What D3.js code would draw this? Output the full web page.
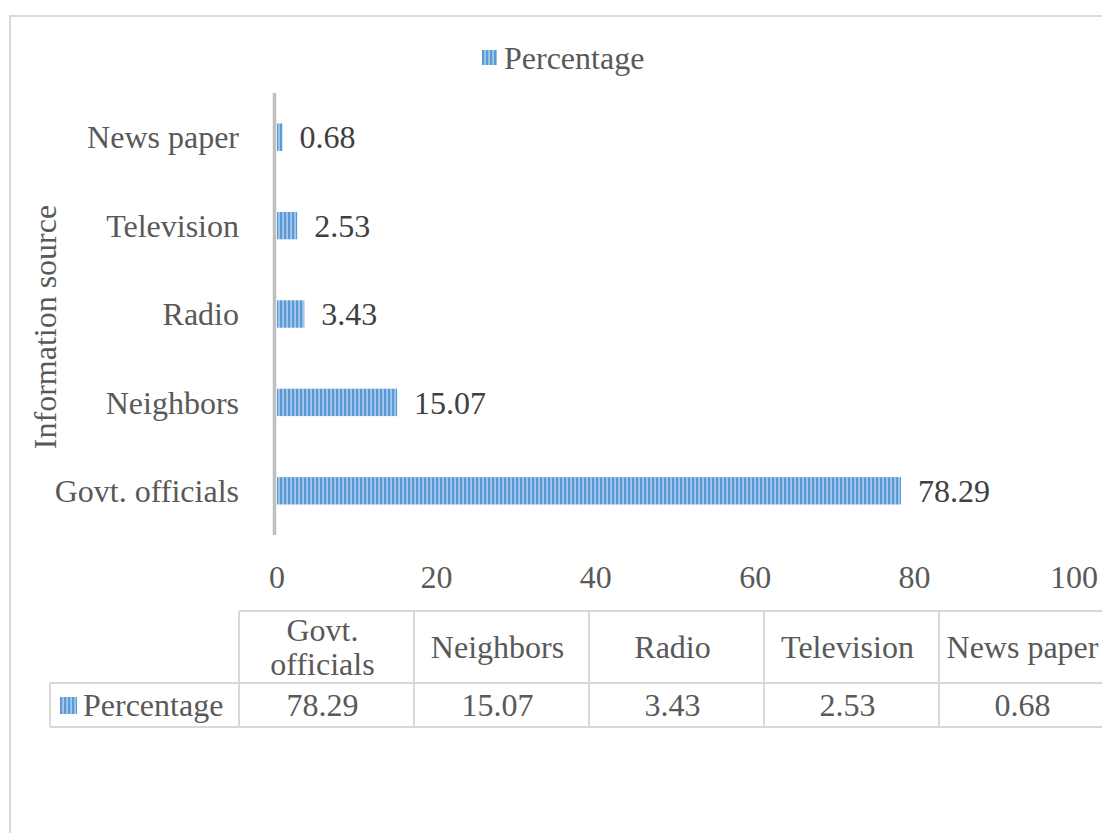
<!DOCTYPE html>
<html>
<head>
<meta charset="utf-8">
<script src="https://cdn.jsdelivr.net/npm/d3@7"></script>
<style>
  body { margin: 0; background: #fff; }
  text { font-family: "Liberation Serif", "Times New Roman", serif; }
</style>
</head>
<body>
<div id="chart"></div>
<script>
var categories = ['Govt. officials', 'Neighbors', 'Radio', 'Television', 'News paper']
var values = [78.29, 15.07, 3.43, 2.53, 0.68]
var seriesName = 'Percentage'
var ticks = [0, 20, 40, 60, 80, 100]
var headerLines = [['Govt.', 'officials'], ['Neighbors'], ['Radio'], ['Television'], ['News paper']]

var W = 1102
var H = 833
var FONT = 32
var GREY = '#595959'
var DARK = '#404040'
var GRID = '#D9D9D9'

var svg = d3.select('#chart').append('svg')
  .attr('width', W)
  .attr('height', H)

// stripe pattern for bars / swatches
var pat = svg.append('defs').append('pattern')
  .attr('id', 'stripes')
  .attr('patternUnits', 'userSpaceOnUse')
  .attr('width', 4)
  .attr('height', 4)
pat.append('rect').attr('width', 4).attr('height', 4).attr('fill', '#A4C8EB')
pat.append('rect').attr('width', 2.2).attr('height', 4).attr('fill', '#5B9BD5')

// outer chart frame
svg.append('rect')
  .attr('x', 10).attr('y', 16)
  .attr('width', W + 20).attr('height', H + 20)
  .attr('fill', 'none')
  .attr('stroke', GRID)
  .attr('stroke-width', 2)

var x = d3.scaleLinear().domain([0, 100]).range([277, 1074])
var y = d3.scaleBand().domain(categories.slice().reverse()).range([93, 535]).paddingInner(0.69).paddingOuter(0.345)

// legend
var legend = svg.append('g').attr('transform', 'translate(482,50)')
legend.append('rect').attr('width', 15).attr('height', 15).attr('fill', 'url(#stripes)')
legend.append('text')
  .attr('x', 22).attr('y', 7.5)
  .attr('dy', '0.35em')
  .attr('font-size', FONT)
  .attr('fill', GREY)
  .text(seriesName)

// bars
svg.selectAll('.bar').data(categories).enter().append('rect')
  .attr('class', 'bar')
  .attr('x', x(0))
  .attr('y', function (d) { return y(d) })
  .attr('width', function (d, i) { return x(values[i]) - x(0) })
  .attr('height', y.bandwidth())
  .attr('fill', 'url(#stripes)')

// data labels
svg.selectAll('.val').data(categories).enter().append('text')
  .attr('class', 'val')
  .attr('x', function (d, i) { return x(values[i]) + 17 })
  .attr('y', function (d) { return y(d) + y.bandwidth() / 2 })
  .attr('dy', '0.35em')
  .attr('font-size', FONT)
  .attr('fill', DARK)
  .text(function (d, i) { return values[i].toFixed(2) })

// vertical axis line
svg.append('line')
  .attr('x1', 274.5).attr('x2', 274.5)
  .attr('y1', 93).attr('y2', 535)
  .attr('stroke', '#BFBFBF')
  .attr('stroke-width', 3.5)

// category labels
svg.selectAll('.cat').data(categories).enter().append('text')
  .attr('class', 'cat')
  .attr('x', 239)
  .attr('y', function (d) { return y(d) + y.bandwidth() / 2 })
  .attr('dy', '0.35em')
  .attr('text-anchor', 'end')
  .attr('font-size', FONT)
  .attr('fill', GREY)
  .text(function (d) { return d })

// x tick labels
svg.selectAll('.tick').data(ticks).enter().append('text')
  .attr('class', 'tick')
  .attr('x', function (d) { return x(d) })
  .attr('y', 577)
  .attr('dy', '0.35em')
  .attr('text-anchor', 'middle')
  .attr('font-size', FONT)
  .attr('fill', GREY)
  .text(function (d) { return d })

// y axis title
svg.append('text')
  .attr('transform', 'translate(45,327) rotate(-90)')
  .attr('text-anchor', 'middle')
  .attr('dy', '0.35em')
  .attr('font-size', FONT)
  .attr('fill', GREY)
  .text('Information source')

// data table
var TOP = 611
var MID = 683
var BOT = 727
var LEFT = 50
var COL0 = 239
var COLW = 175
var SHIFT = -4 // text sits a little left of cell centre
var table = svg.append('g').attr('stroke', GRID).attr('stroke-width', 2)
table.append('line').attr('x1', COL0).attr('x2', W + 10).attr('y1', TOP).attr('y2', TOP)
table.append('line').attr('x1', LEFT).attr('x2', W + 10).attr('y1', MID).attr('y2', MID)
table.append('line').attr('x1', LEFT).attr('x2', W + 10).attr('y1', BOT).attr('y2', BOT)
table.append('line').attr('x1', LEFT).attr('x2', LEFT).attr('y1', MID).attr('y2', BOT)
table.selectAll('.col').data(d3.range(categories.length + 1)).enter().append('line')
  .attr('x1', function (i) { return COL0 + i * COLW })
  .attr('x2', function (i) { return COL0 + i * COLW })
  .attr('y1', TOP).attr('y2', BOT)

headerLines.forEach(function (lines, i) {
  var cx = COL0 + i * COLW + COLW / 2 + SHIFT
  var cy = (TOP + MID) / 2
  lines.forEach(function (line, j) {
    svg.append('text')
      .attr('x', cx)
      .attr('y', cy + (j - (lines.length - 1) / 2) * 34)
      .attr('dy', '0.35em')
      .attr('text-anchor', 'middle')
      .attr('font-size', FONT)
      .attr('fill', GREY)
      .text(line)
  })
})

values.forEach(function (v, i) {
  svg.append('text')
    .attr('x', COL0 + i * COLW + COLW / 2 + SHIFT)
    .attr('y', (MID + BOT) / 2)
    .attr('dy', '0.35em')
    .attr('text-anchor', 'middle')
    .attr('font-size', FONT)
    .attr('fill', GREY)
    .text(v.toFixed(2))
})

svg.append('rect')
  .attr('x', 60).attr('y', 697)
  .attr('width', 17).attr('height', 17)
  .attr('fill', 'url(#stripes)')
svg.append('text')
  .attr('x', 83).attr('y', (MID + BOT) / 2)
  .attr('dy', '0.35em')
  .attr('font-size', FONT)
  .attr('fill', GREY)
  .text(seriesName)
</script>
</body>
</html>
